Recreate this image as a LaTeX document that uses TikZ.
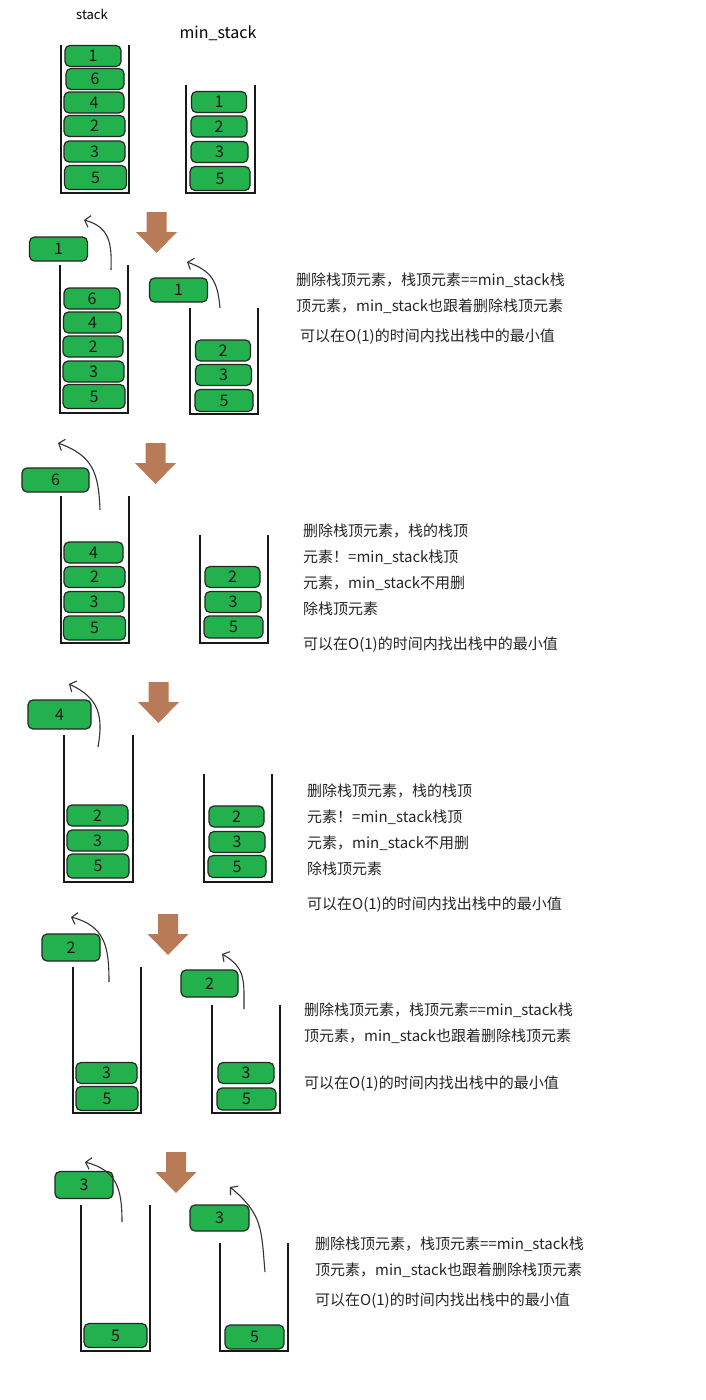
\documentclass[tikz,border=0pt]{standalone}
\usepackage{fontspec}
\newfontfamily\cjk{Noto Sans CJK SC}
\usetikzlibrary{arrows.meta}
\definecolor{elemgreen}{RGB}{34,177,76}
\definecolor{dropbrown}{RGB}{185,122,87}

\begin{document}
\begin{tikzpicture}[
    x=1pt, y=-1pt,
    font=\cjk,
    elem/.style={draw=black!85, line width=1.2pt, fill=elemgreen, rounded corners=5pt, minimum width=58pt, minimum height=21pt, inner sep=0pt, text=black!90, font=\cjk\fontsize{16}{16}\selectfont},
    base/.style={elem, minimum width=62pt, minimum height=24pt},
    popped/.style={elem, minimum width=58pt, minimum height=26pt},
    wall/.style={line width=2.3pt, black!90},
    drop/.style={fill=dropbrown},
    lift/.style={-{Straight Barb[length=5pt, width=12pt]}, line width=1.1pt, black!80, looseness=1.2},
    note/.style={anchor=west, align=left, inner sep=0pt, text=black!85, font=\cjk\fontsize{15}{26}\selectfont}
  ]
    \fill[white] (0,0) rectangle (705,1400);
    \useasboundingbox (0,0) rectangle (705,1400);

    % stack walls
    \foreach \xl/\xr/\yt/\yb in {61/129/45/193, 186/255/85/193,
        60/128/265/413, 190/258/308/414,
        61/129/496/643, 200/268/535/643,
        64/133/735/882, 204/272/774/882,
        73/141/967/1113, 212/280/1005/1113,
        81/150/1205/1351, 220/288/1243/1351}
      \draw[wall] (\xl,\yt) |- (\xr,\yb) -- (\xr,\yt);

    % big arrows between the steps
    \foreach \ax/\ay in {156.5/212, 155.5/443, 158.5/682, 168/914, 176/1152}
      \fill[drop] (\ax,\ay) ++(-10,0) -- ++(20,0) -- ++(0,20) -- ++(10.5,0)
        -- ++(-20.5,21) -- ++(-20.5,-21) -- ++(10.5,0) -- cycle;

    % step 1
    \node[font=\cjk\fontsize{13}{13}\selectfont] (stacklbl) at (92,14) {stack};
    \node[font=\cjk\fontsize{16}{16}\selectfont] (minlbl) at (218,33) {min\_stack};
    \node[elem, minimum width=56pt] (s1-1) at (93,56) {1};
    \node[elem] (s1-6) at (95,79) {6};
    \node[elem, minimum width=60pt] (s1-4) at (94,102.5) {4};
    \node[elem, minimum width=61pt] (s1-2) at (94.5,126) {2};
    \node[elem, minimum width=61pt] (s1-3) at (94.5,151.5) {3};
    \node[base] (s1-5) at (95.5,177.5) {5};
    \node[elem, minimum width=55pt] (m1-1) at (219,102) {1};
    \node[elem, minimum width=56pt] (m1-2) at (219,126.5) {2};
    \node[elem, minimum width=57pt] (m1-3) at (219.5,152) {3};
    \node[base, minimum width=60pt] (m1-5) at (220,178.5) {5};

    % step 2
    \node[popped, minimum height=24pt] (pop2) at (58.5,249) {1};
    \node[elem, minimum width=56pt] (s2-6) at (92,298.5) {6};
    \node[elem] (s2-4) at (92.5,322.5) {4};
    \node[elem, minimum width=60pt] (s2-2) at (93,346.5) {2};
    \node[elem, minimum width=61pt] (s2-3) at (93.5,371.5) {3};
    \node[base] (s2-5) at (94,396.5) {5};
    \node[popped, minimum height=24pt] (popm2) at (178.5,290) {1};
    \node[elem, minimum width=55pt] (m2-2) at (223,350.5) {2};
    \node[elem, minimum width=56pt] (m2-3) at (223.5,375) {3};
    \node[base, minimum width=58pt, minimum height=22pt] (m2-5) at (224,400.5) {5};
    \coordinate (lift2) at (111,270);
    \coordinate (out2) at (84,220);
    \coordinate (liftm2) at (220,308);
    \coordinate (outm2) at (187,262);
    \draw[lift] (lift2) to[out=88, in=-15] (out2);
    \draw[lift] (liftm2) to[out=95, in=-20] (outm2);
    \node[note] (note2) at (296,293) {删除栈顶元素，栈顶元素==min\_stack栈\\顶元素，min\_stack也跟着删除栈顶元素};
    \node[note] (note2b) at (300,337) {可以在O(1)的时间内找出栈中的最小值};

    % step 3
    \node[popped, minimum width=67pt, minimum height=24pt] (pop3) at (55.5,480) {6};
    \node[elem, minimum width=59pt] (s3-4) at (93.5,552.5) {4};
    \node[elem, minimum width=61pt] (s3-2) at (94.5,577) {2};
    \node[elem, minimum width=60pt] (s3-3) at (94,602) {3};
    \node[base] (s3-5) at (94.5,628) {5};
    \node[elem, minimum width=55pt] (m3-2) at (232.5,577) {2};
    \node[elem, minimum width=56pt] (m3-3) at (233,602) {3};
    \node[base, minimum width=59pt, minimum height=22pt] (m3-5) at (233.5,627) {5};
    \coordinate (lift3) at (100,510);
    \coordinate (out3) at (58,443);
    \draw[lift] (lift3) to[out=92, in=-20] (out3);
    \node[note] (note3) at (303,570) {删除栈顶元素，栈的栈顶\\元素！=min\_stack栈顶\\元素，min\_stack不用删\\除栈顶元素};
    \node[note] (note3b) at (303,645) {可以在O(1)的时间内找出栈中的最小值};

    % step 4
    \node[popped, minimum width=63pt, minimum height=29pt] (pop4) at (59.5,714.5) {4};
    \node[elem, minimum width=61pt] (s4-2) at (97.5,815.5) {2};
    \node[elem, minimum width=61pt] (s4-3) at (97.5,840.5) {3};
    \node[base] (s4-5) at (98,866) {5};
    \node[elem, minimum width=55pt] (m4-2) at (236.5,816.5) {2};
    \node[elem, minimum width=56pt] (m4-3) at (237,842) {3};
    \node[base, minimum width=58pt, minimum height=22pt] (m4-5) at (237,866.5) {5};
    \coordinate (lift4) at (98,747);
    \coordinate (out4) at (69,684);
    \draw[lift] (lift4) to[out=80, in=-25] (out4);
    \node[note] (note4) at (307,830) {删除栈顶元素，栈的栈顶\\元素！=min\_stack栈顶\\元素，min\_stack不用删\\除栈顶元素};
    \node[note] (note4b) at (307,905) {可以在O(1)的时间内找出栈中的最小值};

    % step 5
    \node[popped, minimum height=27pt] (pop5) at (71,947.5) {2};
    \node[elem, minimum width=61pt] (s5-3) at (106.5,1073) {3};
    \node[base] (s5-5) at (107,1098.5) {5};
    \node[popped, minimum width=57pt, minimum height=27pt] (popm5) at (209.5,983.5) {2};
    \node[elem, minimum width=56pt] (m5-3) at (246,1073) {3};
    \node[base, minimum width=59pt, minimum height=22pt] (m5-5) at (246.5,1099) {5};
    \coordinate (lift5) at (109,982);
    \coordinate (out5) at (71,917);
    \coordinate (liftm5) at (244,1009);
    \coordinate (outm5) at (222,954);
    \draw[lift] (lift5) to[out=90, in=-15] (out5);
    \draw[lift] (liftm5) to[out=90, in=-30] (outm5);
    \node[note] (note5) at (304,1023.5) {删除栈顶元素，栈顶元素==min\_stack栈\\顶元素，min\_stack也跟着删除栈顶元素};
    \node[note] (note5b) at (304,1084) {可以在O(1)的时间内找出栈中的最小值};

    % step 6
    \node[popped, minimum height=27pt] (pop6) at (84,1185) {3};
    \node[base, minimum width=63pt] (s6-5) at (115.5,1335.5) {5};
    \node[popped, minimum width=59pt] (popm6) at (219.5,1218) {3};
    \node[base, minimum width=59pt] (m6-5) at (254.5,1337) {5};
    \coordinate (lift6) at (122,1222);
    \coordinate (out6) at (85,1162);
    \coordinate (liftm6) at (265,1272);
    \coordinate (outm6) at (230,1187);
    \draw[lift] (lift6) to[out=90, in=-15] (out6);
    \draw[lift] (liftm6) to[out=95, in=-40] (outm6);
    \node[note] (note6) at (315,1257) {删除栈顶元素，栈顶元素==min\_stack栈\\顶元素，min\_stack也跟着删除栈顶元素};
    \node[note] (note6b) at (315,1301) {可以在O(1)的时间内找出栈中的最小值};
  \end{tikzpicture}
\end{document}
